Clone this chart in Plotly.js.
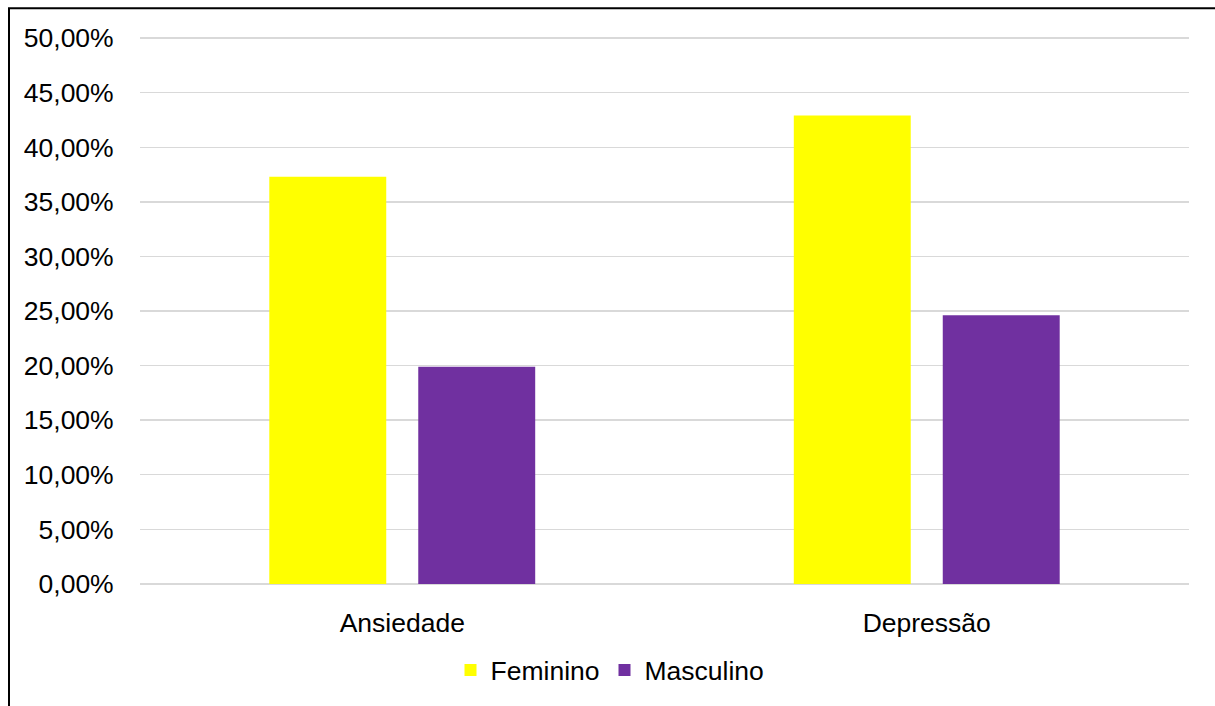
<!DOCTYPE html>
<html>
<head>
<meta charset="utf-8">
<script src="https://cdn.plot.ly/plotly-3.0.1.min.js"></script>
<style>
html,body{margin:0;padding:0;background:#fff;}
#chart{width:1215px;height:706px;}
</style>
</head>
<body>
<div id="chart"></div>
<script>
const categories = ["Ansiedade", "Depressão"];
const feminino = [0.373, 0.429];
const masculino = [0.199, 0.246];
const seriesNames = ["Feminino", "Masculino"];
const yTicks = [0, 0.05, 0.10, 0.15, 0.20, 0.25, 0.30, 0.35, 0.40, 0.45, 0.50];

const W = 1215, H = 706;
const M = {l: 140, r: 26, t: 37, b: 117};
const pw = W - M.l - M.r, ph = H - M.t - M.b;
const px = v => (v - M.l) / pw;      // pixel x -> paper
const py = v => (H - M.b - v) / ph;  // pixel y -> paper

const font = "Liberation Sans, Arial, sans-serif";
const fs = 26.5;

const traces = [
  {type: "bar", name: seriesNames[0], x: categories, y: feminino,
   marker: {color: "#FFFF00"}, hoverinfo: "none"},
  {type: "bar", name: seriesNames[1], x: categories, y: masculino,
   marker: {color: "#7030A0"}, hoverinfo: "none"}
];

const layout = {
  width: W, height: H,
  margin: M,
  paper_bgcolor: "#fff", plot_bgcolor: "#fff",
  separators: ",.",
  font: {family: font, size: fs, color: "#000"},
  barmode: "group",
  bargap: 0.432,
  bargroupgap: 0.215,
  showlegend: true,
  legend: {orientation: "h", x: px(610), xanchor: "center", y: py(675), yanchor: "middle",
           font: {family: font, size: fs, color: "#000"}, itemwidth: 30, bgcolor: "rgba(0,0,0,0)"},
  xaxis: {showgrid: false, zeroline: false, showline: false, ticks: "outside", ticklen: 14,
          tickcolor: "rgba(0,0,0,0)", tickfont: {family: font, size: fs, color: "#000"}},
  yaxis: {range: [-0.001, 0.501], tickvals: yTicks, tickformat: ".2%", showgrid: true,
          gridcolor: "#d9d9d9", gridwidth: 1.4, zeroline: false, showline: false,
          ticks: "outside", ticklen: 20, tickcolor: "rgba(0,0,0,0)",
          tickfont: {family: font, size: fs, color: "#000"}},
  shapes: [
    {type: "line", xref: "paper", yref: "paper", x0: px(9), x1: px(9), y0: py(8), y1: py(720),
     line: {color: "#000", width: 2}},
    {type: "line", xref: "paper", yref: "paper", x0: px(8), x1: px(1230), y0: py(8), y1: py(8),
     line: {color: "#000", width: 2}}
  ]
};

Plotly.newPlot("chart", traces, layout, {staticPlot: true, displayModeBar: false});
</script>
</body>
</html>
